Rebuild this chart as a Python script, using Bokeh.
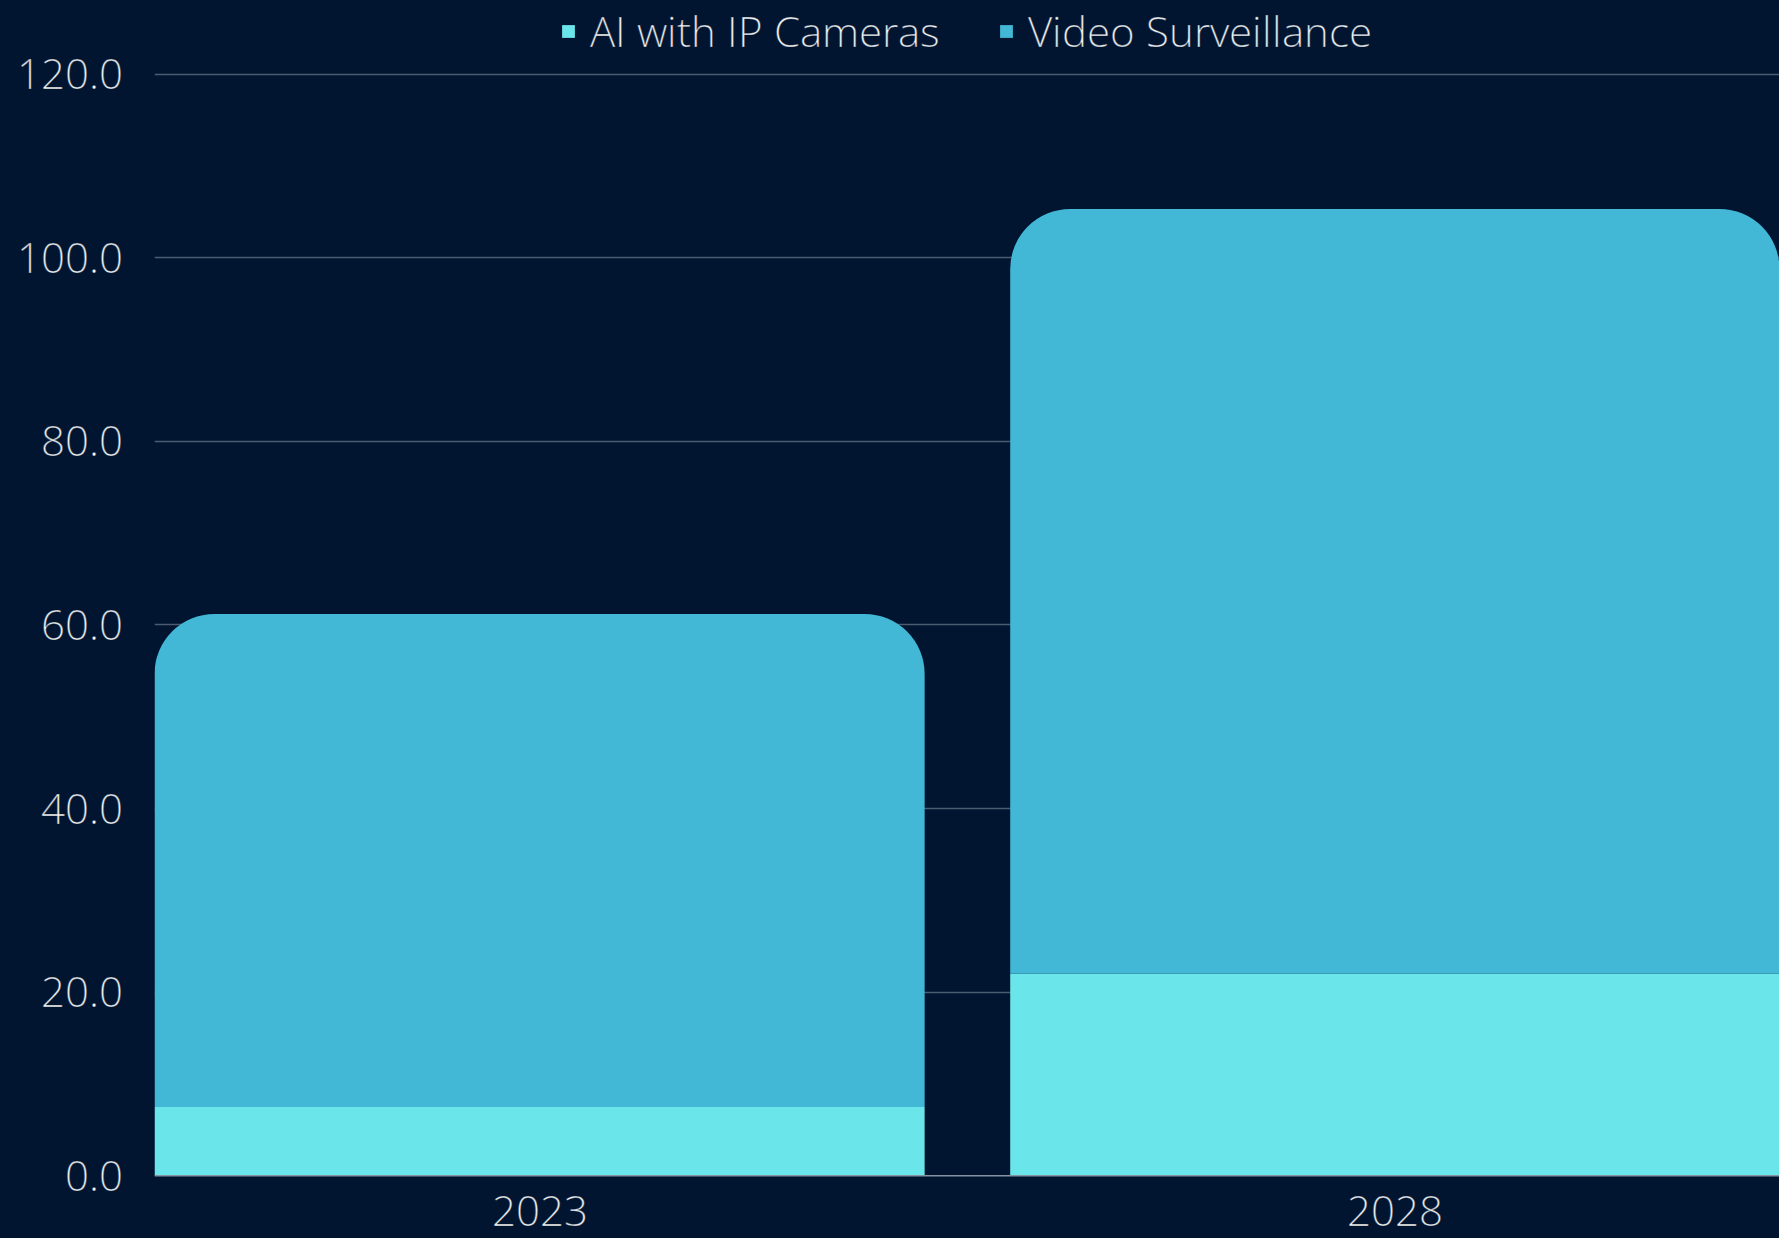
import numpy as np
from bokeh.plotting import figure
from bokeh.models import (ColumnDataSource, FixedTicker, PrintfTickFormatter,
                          Legend, LegendItem, Span)
from bokeh.core.properties import value
from bokeh.embed import file_html
from bokeh.resources import INLINE

# ---- data ----
years = ["2023", "2028"]
ai_ip_cameras = [7.5, 22.0]
video_surveillance = [53.7, 83.3]
y_ticks = [0, 20, 40, 60, 80, 100, 120]

BG = "#011530"
C_AI = "#6ae6ea"
C_VS = "#42b7d6"
TXT = "#ffffff"
THIN = "rgba(1, 21, 48, 0.45)"

FONT = "OSLight, 'Open Sans Light', 'Open Sans'"
PAGE_CSS = """
@font-face {
  font-family: "OSLight";
  src: local("Open Sans Light"), local("OpenSans-Light"),
       local("Open Sans"), local("Open Sans Regular"), local("OpenSans-Regular");
  font-weight: 300;
  font-style: normal;
}
html, body { background: %s; }
""" % BG

x_pos = np.arange(len(years), dtype=float)
ai = np.array(ai_ip_cameras)
vs = np.array(video_surveillance)
src = ColumnDataSource(dict(x=x_pos, year=years, ai=ai, total=ai + vs,
                            zero=np.zeros_like(ai)))

p = figure(width=1779, height=1238, output_backend="svg", toolbar_location=None,
           x_range=(-0.45, 1.449), y_range=(-6.83, 128.01),
           x_axis_location=None, min_border_left=154, min_border_right=0,
           min_border_top=0, min_border_bottom=0)
try:
    from bokeh.models import GlobalInlineStyleSheet
    p.stylesheets = [GlobalInlineStyleSheet(css=PAGE_CSS)]
except Exception:
    pass

p.background_fill_color = BG
p.border_fill_color = BG
p.outline_line_color = None

# grid
p.xgrid.visible = False
p.ygrid.ticker = FixedTicker(ticks=y_ticks[1:])
p.ygrid.grid_line_color = "#4a5b72"
p.ygrid.grid_line_width = 1.5

# y axis
ax = p.yaxis[0]
ax.ticker = FixedTicker(ticks=y_ticks)
ax.formatter = PrintfTickFormatter(format="%.1f")
ax.axis_line_color = None
ax.major_tick_line_color = None
ax.minor_tick_line_color = None
ax.major_tick_out = 0
ax.major_tick_in = 0
ax.major_label_standoff = 32
ax.major_label_text_font = FONT
ax.major_label_text_font_size = "42px"
ax.major_label_text_color = TXT

# bars
r_ai = p.vbar(x="x", bottom="zero", top="ai", width=0.9, source=src,
              fill_color=C_AI, line_color=None)
r_vs = p.vbar(x="x", bottom="ai", top="total", width=0.9, source=src,
              fill_color=C_VS, line_color=None, border_radius=(60, 60, 0, 0))

# baseline (x axis line at zero)
p.add_layout(Span(location=0, dimension="width", line_color="#8593a3", line_width=1.5))

# category labels
r_txt = p.text(x="x", y="zero", text="year", source=src, text_align="center",
               text_baseline="middle", y_offset=35, text_font=value(FONT),
               text_font_size="42px", text_color=TXT)

legend = Legend(items=[LegendItem(label="AI with IP Cameras", renderers=[r_ai]),
                       LegendItem(label="Video Surveillance", renderers=[r_vs])],
                orientation="horizontal", location=(406, 1179), spacing=58,
                label_standoff=14, glyph_width=16, glyph_height=16,
                padding=0, margin=0, background_fill_alpha=0,
                border_line_alpha=0, label_text_font=FONT,
                label_text_font_size="42px", label_text_color=TXT)
p.add_layout(legend)

# thin the strokes of the text a little (reference uses a light weight)
for obj, name in [(ax, "major_label_text_outline_color"),
                  (legend, "label_text_outline_color"),
                  (r_txt.glyph, "text_outline_color")]:
    try:
        setattr(obj, name, THIN)
    except Exception:
        pass

open("out.html", "w").write(file_html(p, INLINE))
